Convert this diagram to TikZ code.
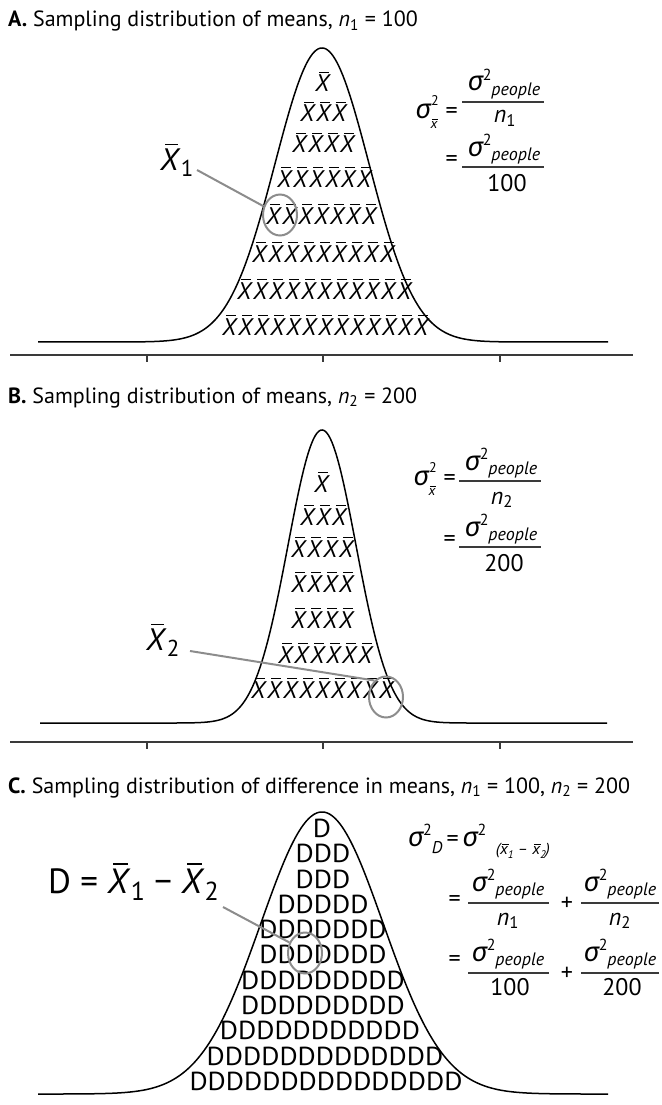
\documentclass[tikz,border=0pt]{standalone}
\usepackage{fontspec}
\setmainfont{PT Sans}
\newfontfamily\grk{Noto Sans}
\usetikzlibrary{shapes.geometric}
\definecolor{pgray}{HTML}{8C8C8C}
\definecolor{axgray}{HTML}{3A3A3A}
\newcommand\fs[1]{\fontsize{#1}{#1}\selectfont}
\newcommand\sg{{\grk\itshape\fs{27}σ}}
\newcommand\xb{\rlap{\kern0.17em\rule[0.8em]{0.42em}{0.05em}}\textit{X}}
\newcommand\xs{\rlap{\kern0.12em\rule[0.62em]{0.42em}{0.06em}}\textit{x}}
\newcommand\xrow[1]{\foreach\k in {1,...,#1}{\xb}}
\newcommand\drow[1]{\scalebox{1.07}[1]{#1}}
\newcommand\sgp{\sg\raisebox{0.42em}{\fs{16}2}\raisebox{-0.2em}{\fs{18}\itshape people}}
\newcommand\sgx{\sg\rlap{\raisebox{0.52em}{\fs{14}\kern0.05em2}}\raisebox{-0.42em}{\fs{14}\xs}}
\begin{document}
\begin{tikzpicture}[x=1pt,y=-1pt,
  curve/.style={line width=1.5pt, black},
  axisline/.style={line width=1.8pt, axgray},
  ring/.style={draw=pgray, line width=2pt, ellipse, inner sep=0pt, minimum width=34pt, minimum height=41pt},
  pointer/.style={draw=pgray, line width=2pt},
  fbar/.style={line width=1.1pt, axgray},
  ttl/.style={anchor=base west, inner sep=0pt, font=\fs{22}},
  xr/.style={anchor=base, inner sep=0pt, font=\fs{24}},
  dr/.style={anchor=base, inner sep=0pt, font=\fs{26}},
  fm/.style={inner sep=0pt, font=\fs{24}},
  big/.style={anchor=base west, inner sep=0pt, font=\fs{31}}]
\useasboundingbox (0,0) rectangle (661,1105);

% ---------------- Panel A ----------------
\node[ttl] (tA) at (8,27) {{\bfseries A.} Sampling distribution of means, \textit{n}\textsubscript{1} = 100};
\draw[curve] plot[domain=38:608, samples=300] (\x,{342-294*exp(-0.5*((\x-322)/47)*((\x-322)/47))});
\draw[axisline] (10,355) -- (633,355);
\foreach \t in {147,323,500} \draw[axisline] (\t,355) -- (\t,362);
\node[xr] (a1) at (323,92) {\xrow{1}};
\node[xr] (a2) at (324,122) {\xrow{3}};
\node[xr] (a3) at (324,153) {\xrow{4}};
\node[xr] (a4) at (325,187) {\xrow{6}};
\node[xr] (a5) at (322,224) {\xrow{7}};
\node[xr] (a6) at (324,262) {\xrow{9}};
\node[xr] (a7) at (325,299) {\xrow{11}};
\node[xr] (a8) at (326,335) {\xrow{13}};
\node[ring] (c1) at (280,215) {};
\node[big] (l1) at (160,170) {\xb\raisebox{-0.22em}{\fs{23}1}};
\coordinate (p1) at (197,170);
\draw[pointer] (p1) -- (c1.152);
% formula A
\node[fm, anchor=base east] (fa1) at (458,118) {\sgx\,\,=};
\node[fm, anchor=base] (na1) at (504,91) {\sgp};
\draw[fbar] (462,102) -- (544,102);
\node[fm, anchor=base] (da1) at (505,123) {\textit{n}\textsubscript{1}};
\node[fm, anchor=base east] (fa2) at (458,166) {=};
\node[fm, anchor=base] (na2) at (504,156) {\sgp};
\draw[fbar] (462,167) -- (544,167);
\node[fm, anchor=base] (da2) at (507,191) {100};

% ---------------- Panel B ----------------
\node[ttl] (tB) at (8,403) {{\bfseries B.} Sampling distribution of means, \textit{n}\textsubscript{2} = 200};
\draw[curve] plot[domain=40:607, samples=300] (\x,{723-293*exp(-0.5*((\x-322)/34)*((\x-322)/34))});
\draw[axisline] (10,742) -- (633,742);
\foreach \t in {147,323,500} \draw[axisline] (\t,742) -- (\t,749);
\node[xr] (b1) at (322,492) {\xrow{1}};
\node[xr] (b2) at (324,525) {\xrow{3}};
\node[xr] (b3) at (323,557) {\xrow{4}};
\node[xr] (b4) at (323,592) {\xrow{4}};
\node[xr] (b5) at (323,628) {\xrow{4}};
\node[xr] (b6) at (326,663) {\xrow{6}};
\node[xr] (b7) at (323,698) {\xrow{9}};
\node[ring] (c2) at (386,697) {};
\node[big] (l2) at (146,650) {\xb\raisebox{-0.22em}{\fs{23}2}};
\coordinate (p2) at (190,651);
\draw[pointer] (p2) -- (c2.125);
% formula B
\node[fm, anchor=base east] (fb1) at (456,485) {\sgx\,\,=};
\node[fm, anchor=base] (nb1) at (501,470) {\sgp};
\draw[fbar] (459,481) -- (541,481);
\node[fm, anchor=base] (db1) at (502,504) {\textit{n}\textsubscript{2}};
\node[fm, anchor=base east] (fb2) at (456,546) {=};
\node[fm, anchor=base] (nb2) at (501,536) {\sgp};
\draw[fbar] (459,547) -- (541,547);
\node[fm, anchor=base] (db2) at (504,571) {200};

% ---------------- Panel C ----------------
\node[ttl] (tC) at (8,793) {{\bfseries C.} Sampling distribution of difference in means, \textit{n}\textsubscript{1} = 100, \textit{n}\textsubscript{2} = 200};
\draw[curve] plot[domain=38:608, samples=300] (\x,{1094-282*exp(-0.5*((\x-322)/61)*((\x-322)/61))});
\node[dr] (d1) at (322,837) {\drow{D}};
\node[dr] (d2) at (323,862) {\drow{DDD}};
\node[dr] (d3) at (323,888) {\drow{DDD}};
\node[dr] (d4) at (323,913) {\drow{DDDDD}};
\node[dr] (d5) at (323,938) {\drow{DDDDDDD}};
\node[dr] (d6) at (323,963) {\drow{DDDDDDD}};
\node[dr] (d7) at (323,989) {\drow{DDDDDDDDD}};
\node[dr] (d8) at (323,1014) {\drow{DDDDDDDDD}};
\node[dr] (d9) at (320,1039) {\drow{DDDDDDDDDDD}};
\node[dr] (d10) at (325,1065) {\drow{DDDDDDDDDDDDD}};
\node[dr] (d11) at (326,1090) {\drow{DDDDDDDDDDDDDDD}};
\node[ring] (c3) at (305,953) {};
\node[big, font=\fs{35}] (l3) at (48,893) {D = \xb\raisebox{-0.22em}{\fs{26}1} − \xb\raisebox{-0.22em}{\fs{26}2}};
\coordinate (p3) at (223,907);
\draw[pointer] (p3) -- (c3.146);
% formula C
\node[fm, anchor=base west] (fc1) at (408,846) {\sg\raisebox{0.45em}{\fs{16}2}\raisebox{-0.3em}{\fs{17}\itshape D}\,=\,\sg\raisebox{0.45em}{\fs{16}2}\hspace{0.4em}\raisebox{-0.35em}{\fs{16}\itshape (\xs\raisebox{-0.25em}{\fs{11}1} – \xs\raisebox{-0.25em}{\fs{11}2})}};
\node[fm, anchor=base east] (fc2) at (461,906) {=};
\node[fm, anchor=base] (nc1) at (508,891) {\sgp};
\draw[fbar] (468,903) -- (549,903);
\node[fm, anchor=base] (dc1) at (508,925) {\textit{n}\textsubscript{1}};
\node[fm, anchor=base] (pl1) at (567,910) {+};
\node[fm, anchor=base] (nc2) at (620,891) {\sgp};
\draw[fbar] (581,903) -- (659,903);
\node[fm, anchor=base] (dc2) at (620,925) {\textit{n}\textsubscript{2}};
\node[fm, anchor=base east] (fc3) at (461,966) {=};
\node[fm, anchor=base] (nc3) at (508,961) {\sgp};
\draw[fbar] (468,973) -- (549,973);
\node[fm, anchor=base] (dc3) at (510,995) {100};
\node[fm, anchor=base] (pl2) at (567,980) {+};
\node[fm, anchor=base] (nc4) at (620,961) {\sgp};
\draw[fbar] (581,973) -- (659,973);
\node[fm, anchor=base] (dc4) at (622,995) {200};
\end{tikzpicture}
\end{document}
